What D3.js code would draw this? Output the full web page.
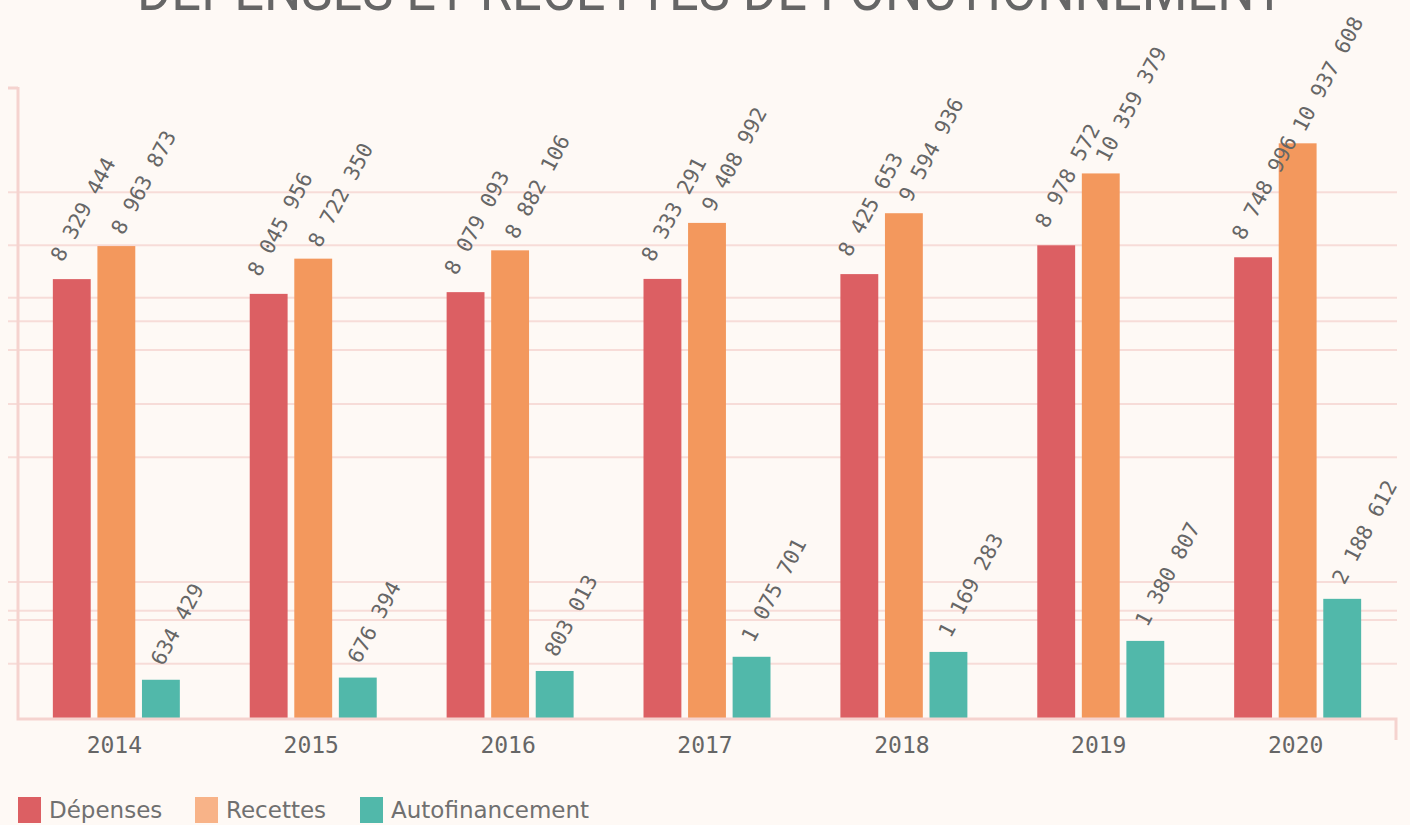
<!DOCTYPE html>
<html>
<head>
<meta charset="utf-8">
<script src="https://cdn.jsdelivr.net/npm/d3@7"></script>
<style>
  html, body { margin: 0; padding: 0; background: #FEF9F5; }
  svg { display: block; }
</style>
</head>
<body>
<svg id="chart" width="1410" height="825"></svg>
<script>
const years = ["2014", "2015", "2016", "2017", "2018", "2019", "2020"];
const seriesNames = ["Dépenses", "Recettes", "Autofinancement"];
const depenses = [8329444, 8045956, 8079093, 8333291, 8425653, 8978572, 8748996];
const recettes = [8963873, 8722350, 8882106, 9408992, 9594936, 10359379, 10937608];
const autofinancement = [634429, 676394, 803013, 1075701, 1169283, 1380807, 2188612];
const gridValues = [10000000, 8980000, 7970000, 7520000, 6970000, 5930000, 4910000, 2510000, 1960000, 1780000, 940000];
const yDomain = [-100000, 12000000];
const title = "DÉPENSES ET RECETTES DE FONCTIONNEMENT";

const barColors = ["#DC5F63", "#F3985D", "#51B8AA"];
const legendColors = ["#DC5F63", "#F8B388", "#51B8AA"];
const labelShiftX = [-9, 7, 2];
const labelShiftY = [-16, -10, -13];

const seriesValues = [depenses, recettes, autofinancement];
const data = years.map((yr, i) => ({
  year: yr,
  values: seriesNames.map((s, k) => ({ key: s, k: k, value: seriesValues[k][i] }))
}));

const svg = d3.select("#chart");
const pLeft = 18, pRight = 1396, pBottom = 718, pTop = 88;

const x0 = d3.scaleBand().domain(years).range([pLeft, pRight]).paddingInner(0.355).paddingOuter(0.177);
const x1 = d3.scaleBand().domain(seriesNames).range([0, x0.bandwidth()]).paddingInner(0.15);
const y = d3.scaleLinear().domain(yDomain).range([pBottom, pTop]);

const fmt = v => d3.format(",")(v).replace(/,/g, " ");

// gridlines
svg.append("g").selectAll("line").data(gridValues).join("line")
  .attr("x1", 8).attr("x2", 1397)
  .attr("y1", d => y(d)).attr("y2", d => y(d))
  .attr("stroke", "#F7DCD8").attr("stroke-width", 2);

// top tick
svg.append("line").attr("x1", 8).attr("x2", pLeft).attr("y1", y(yDomain[1])).attr("y2", y(yDomain[1]))
  .attr("stroke", "#F5D3CF").attr("stroke-width", 3);

// bars
const groups = svg.append("g").selectAll("g").data(data).join("g")
  .attr("transform", d => `translate(${x0(d.year)},0)`);

groups.selectAll("rect").data(d => d.values).join("rect")
  .attr("x", d => x1(d.key))
  .attr("width", x1.bandwidth())
  .attr("y", d => y(d.value))
  .attr("height", d => pBottom - y(d.value))
  .attr("fill", d => barColors[d.k]);

groups.selectAll("text.val").data(d => d.values).join("text")
  .attr("class", "val")
  .attr("transform", d => `translate(${x1(d.key) + x1.bandwidth() / 2 + labelShiftX[d.k]},${y(d.value) + labelShiftY[d.k]}) rotate(-62)`)
  .attr("font-family", "'DejaVu Sans Mono', monospace")
  .attr("font-size", 21)
  .attr("fill", "#666")
  .text(d => fmt(d.value));

// axes frame
svg.append("path")
  .attr("d", `M${pLeft},${pTop - 1} L${pLeft},${pBottom + 1} L${pRight},${pBottom + 1} L${pRight},740`)
  .attr("fill", "none").attr("stroke", "#F5D3CF").attr("stroke-width", 3);

// x axis labels
const xAxis = d3.axisBottom(x0).tickSize(0).tickPadding(0);
const gx = svg.append("g").attr("transform", `translate(0,${pBottom})`).call(xAxis);
gx.select(".domain").remove();
gx.selectAll("text")
  .attr("y", 35)
  .attr("dy", 0)
  .attr("x", -2)
  .attr("font-family", "'DejaVu Sans Mono', monospace")
  .attr("font-size", 23)
  .attr("fill", "#666");

// title
svg.append("text")
  .attr("x", 137).attr("y", 10)
  .attr("textLength", 1148).attr("lengthAdjust", "spacingAndGlyphs")
  .attr("font-family", "Roboto, sans-serif").attr("font-weight", 400)
  .attr("font-size", 58).attr("fill", "#666")
  .text(title);

// legend
const legendX = [18, 195, 360];
const lg = svg.append("g").selectAll("g").data(seriesNames).join("g")
  .attr("transform", (d, i) => `translate(${legendX[i]},797)`);
lg.append("rect").attr("width", 23).attr("height", 26).attr("fill", (d, i) => legendColors[i]);
lg.append("text").attr("x", 31).attr("y", 21)
  .attr("font-family", "'DejaVu Sans', sans-serif").attr("font-weight", 400)
  .attr("font-size", 23).attr("fill", "#707070")
  .text(d => d);
</script>
</body>
</html>
